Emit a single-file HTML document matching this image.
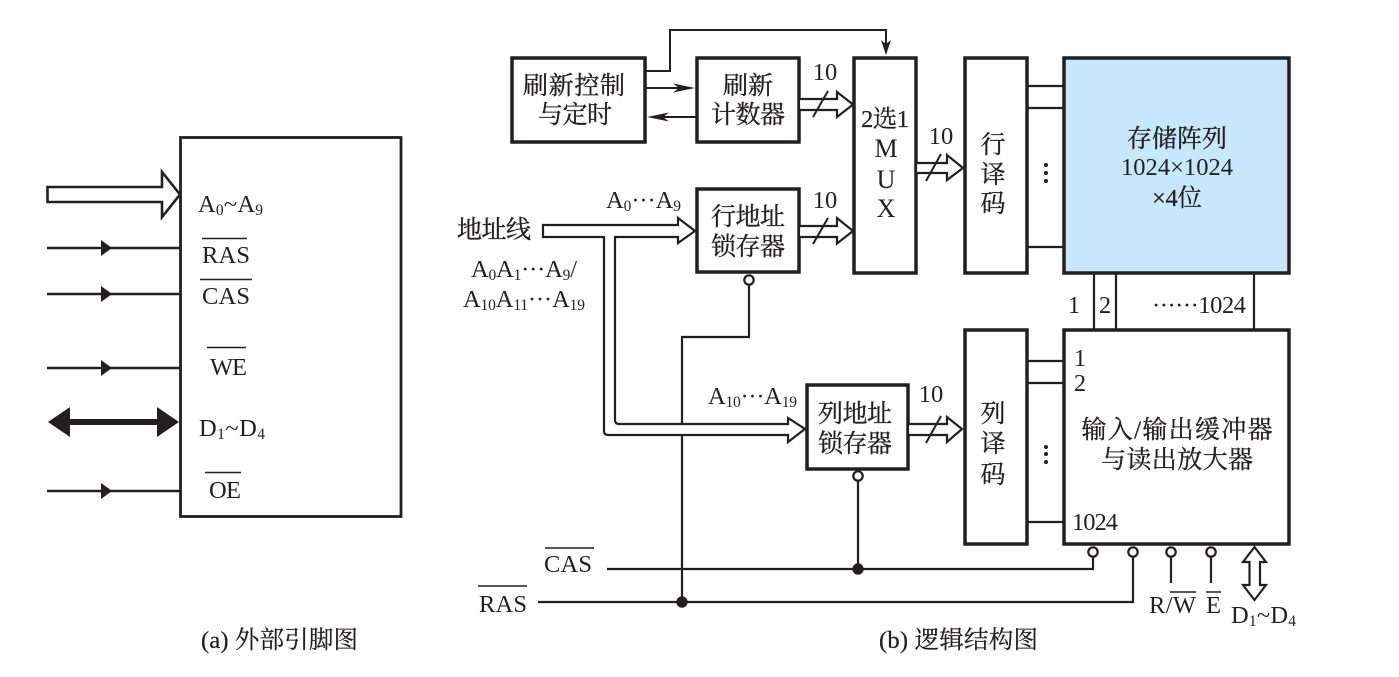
<!DOCTYPE html>
<html><head><meta charset="utf-8"><style>
html,body{margin:0;padding:0;background:#fff;width:1399px;height:677px;overflow:hidden}
svg{display:block}
text{font-family:"Liberation Serif","Noto Serif CJK SC",serif;font-size:24.5px;fill:#231f20}
.c{font-size:25px;text-anchor:middle;stroke:#231f20;stroke-width:.35}
.k{stroke:#231f20;stroke-width:.25}
.m{text-anchor:middle}
.b{fill:#fff;stroke:#231f20;stroke-width:3.5}
.l{fill:none;stroke:#231f20;stroke-width:2.2}
.o{fill:none;stroke:#231f20;stroke-width:1.5}
.h{fill:#fff;stroke:#231f20;stroke-width:2.2}
.s{font-size:15.5px}
</style></head><body>
<svg width="1399" height="677" viewBox="0 0 1399 677" xmlns="http://www.w3.org/2000/svg">
<!-- left -->
<rect x="180.5" y="137.5" width="220.5" height="379" fill="#fff" stroke="#231f20" stroke-width="2.8"/>
<path class="h" style="stroke-width:2.6" d="M47.5 187H162V172L180 194.500 162 217V202H47.5Z"/>
<path class="l" style="stroke-width:2.6" d="M47 248H180M47 294H180M47 368H180M47 491H180"/>
<g fill="#231f20">
<path d="M101 240L112 248 101 256ZM101 286L112 294 101 302ZM101 360L112 368 101 376ZM101 483L112 491 101 499Z"/>
<path d="M48 422L70 407V419H157V407L179 422 157 437V425H70V437Z"/>
</g>
<text x="198" y="212" textLength="65">A<tspan class="s" dy="3">0</tspan><tspan dy="-3">~A</tspan><tspan class="s" dy="3">9</tspan></text>
<text x="202" y="263" textLength="48">RAS</text>
<text x="202" y="304" textLength="48">CAS</text>
<text x="210" y="375" textLength="37">WE</text>
<text x="199" y="436" textLength="66">D<tspan class="s" dy="3">1</tspan><tspan dy="-3">~D</tspan><tspan class="s" dy="3">4</tspan></text>
<text x="209" y="498" textLength="32">OE</text>
<path class="o" d="M202 238.500H247M200 279.500H252M207 347.500H246M205 472.500H241"/>
<text class="k" x="201" y="648" textLength="157">(a) 外部引脚图</text>
<text class="k" x="879" y="648" textLength="159">(b) 逻辑结构图</text>

<!-- thin connectors -->
<path class="o" style="stroke-width:2" d="M645 71H670V30H886V50M645 88H685M697 117H655"/>
<g fill="#231f20">
<path d="M881 40L886 55 891 40 886 44ZM673 83.500L695 88 673 92.500 679 88ZM669 112.500L647 117 669 121.500 663 117Z"/>
</g>

<!-- boxes -->
<rect class="b" x="512" y="58" width="133" height="84"/>
<rect class="b" x="697" y="58" width="102" height="84"/>
<rect class="b" x="854" y="58" width="62" height="215"/>
<rect class="b" x="697" y="189" width="102" height="83"/>
<rect class="b" x="965" y="58" width="62" height="215"/>
<rect x="1064" y="58" width="225" height="215" fill="#c7e8fb" stroke="#231f20" stroke-width="3.5"/>
<rect class="b" x="965" y="330" width="62" height="214"/>
<rect class="b" x="1064" y="330" width="225" height="214"/>
<rect class="b" x="807" y="385" width="101" height="84"/>

<!-- hollow arrows -->
<path class="h" d="M799 99H837V92L853 104.500 837 117V110H799Z"/>
<path class="h" d="M799 226H837V218L853 231 837 243.500V237H799Z"/>
<path class="h" d="M916 163H947V155L963 168 947 180V173H916Z"/>
<path class="h" d="M908 424H947V417L962 429 947 442V435H908Z"/>
<path class="o" style="stroke-width:2" d="M813 117L828 91M813 244L828 218M926 181L941 154M926 443L941 416"/>

<!-- decoder links -->
<path class="l" d="M1027 86H1064M1027 108H1064M1027 247H1064M1094 273V330M1116 273V330M1254 273V330M1027 361H1064M1027 383H1064M1027 522H1064"/>
<g fill="#231f20"><circle cx="1046" cy="165" r="2"/><circle cx="1046" cy="173" r="2"/><circle cx="1046" cy="181" r="2"/><circle cx="1046" cy="447" r="2"/><circle cx="1046" cy="454" r="2"/><circle cx="1046" cy="462" r="2"/></g>

<!-- control lines -->
<path class="l" d="M749 285V337H682V602M607 569H1093V556M538 602H1133V556M858 480V569M1171 556V583M1211 556V583"/>
<path class="h" d="M543 225H678V218L695 231 678 243V237H615V420Q615 424 619 424H788V418L805 429 788 442V435H608Q604 435 604 431V237H543Z"/>
<g fill="#fff" stroke="#231f20" stroke-width="2.2">
<circle cx="749" cy="280" r="4.700"/><circle cx="858" cy="476" r="4.700"/>
<circle cx="1093" cy="552" r="4.700"/><circle cx="1133" cy="552" r="4.700"/><circle cx="1171" cy="552" r="4.700"/><circle cx="1211" cy="552" r="4.700"/>
</g>
<circle cx="858" cy="569" r="5.700" fill="#231f20"/><circle cx="682" cy="602" r="5.700" fill="#231f20"/>
<path class="h" d="M1254.500 547L1266 562H1260V585H1266L1254.500 600 1243 585H1249.500V562H1243Z"/>

<!-- block labels -->
<text class="c" x="574" y="94" textLength="102">刷新控制</text>
<text class="c" x="575" y="123" textLength="74">与定时</text>
<text class="c" x="748" y="94" textLength="50">刷新</text>
<text class="c" x="748" y="123" textLength="74">计数器</text>
<text class="c" x="748" y="225" textLength="74">行地址</text>
<text class="c" x="748" y="255" textLength="74">锁存器</text>
<text class="c" x="855" y="422" textLength="74">列地址</text>
<text class="c" x="855" y="452" textLength="74">锁存器</text>
<text class="c" x="993" y="153">行</text><text class="c" x="993" y="183">译</text><text class="c" x="993" y="212">码</text>
<text class="c" x="993" y="422">列</text><text class="c" x="993" y="452">译</text><text class="c" x="993" y="483">码</text>
<text class="c" x="1177" y="147" textLength="100">存储阵列</text>
<text class="m" x="1177" y="175" textLength="112">1024×1024</text>
<text class="m k" x="1177" y="206" textLength="50">×4位</text>
<text class="c" x="1177" y="438" textLength="191">输入/输出缓冲器</text>
<text class="c" x="1177" y="468" textLength="152">与读出放大器</text>
<text class="m k" x="885" y="127" textLength="48">2选1</text>
<text class="m" x="886" y="157" style="font-size:26px">M</text><text class="m" x="886" y="188" style="font-size:26px">U</text><text class="m" x="886" y="217" style="font-size:26px">X</text>
<text class="m" x="825" y="80">10</text><text class="m" x="825" y="208">10</text><text class="m" x="941" y="144">10</text><text class="m" x="931" y="402">10</text>
<text x="606" y="208" textLength="75">A<tspan class="s" dy="3">0</tspan><tspan dy="-3">···A</tspan><tspan class="s" dy="3">9</tspan></text>
<text class="c" x="494" y="238" textLength="74">地址线</text>
<text x="471" y="277" textLength="106">A<tspan class="s" dy="3">0</tspan><tspan dy="-3">A</tspan><tspan class="s" dy="3">1</tspan><tspan dy="-3">···A</tspan><tspan class="s" dy="3">9</tspan><tspan dy="-3">/</tspan></text>
<text x="463" y="307" textLength="122">A<tspan class="s" dy="3">10</tspan><tspan dy="-3">A</tspan><tspan class="s" dy="3">11</tspan><tspan dy="-3">···A</tspan><tspan class="s" dy="3">19</tspan></text>
<text x="708" y="404" textLength="89">A<tspan class="s" dy="3">10</tspan><tspan dy="-3">···A</tspan><tspan class="s" dy="3">19</tspan></text>
<text x="544" y="572" textLength="48">CAS</text>
<text x="479" y="612" textLength="48">RAS</text>
<path class="o" d="M545 548H594M478 586H527M1170 592H1196M1206 592H1221"/>
<text class="m" x="1074" y="313">1</text><text class="m" x="1105" y="313">2</text>
<text x="1152" y="313" textLength="94">······1024</text>
<text class="m" x="1080" y="366">1</text><text class="m" x="1080" y="391">2</text>
<text x="1072" y="530" textLength="46">1024</text>
<text x="1149" y="613" textLength="47">R/W</text>
<text x="1206" y="613" textLength="15">E</text>
<text x="1231" y="623" textLength="65">D<tspan class="s" dy="3">1</tspan><tspan dy="-3">~D</tspan><tspan class="s" dy="3">4</tspan></text>
</svg>
</body></html>
